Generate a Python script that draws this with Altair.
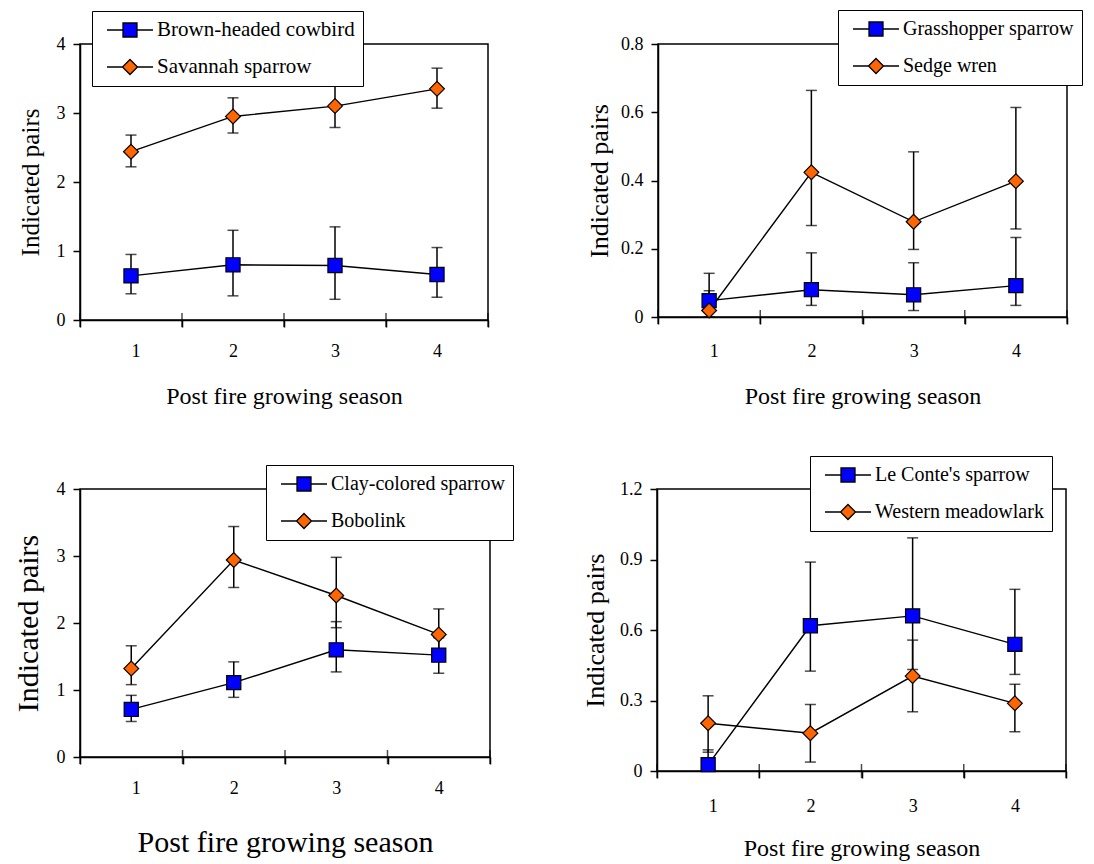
import altair as alt
import pandas as pd

# ---------------- data ----------------
seasons = [1, 2, 3, 4]
season_labels = ["1", "2", "3", "4"]
boundaries = [0.5, 1.5, 2.5, 3.5, 4.5]

# Panel A
a_species = ["Brown-headed cowbird", "Savannah sparrow"]
a_mean_1 = [0.64, 0.80, 0.79, 0.66]
a_lo_1 = [0.38, 0.35, 0.30, 0.33]
a_hi_1 = [0.95, 1.30, 1.35, 1.05]
a_mean_2 = [2.44, 2.95, 3.10, 3.35]
a_lo_2 = [2.22, 2.71, 2.79, 3.07]
a_hi_2 = [2.68, 3.22, 3.42, 3.65]

# Panel B
b_species = ["Grasshopper sparrow", "Sedge wren"]
b_mean_1 = [0.048, 0.080, 0.065, 0.092]
b_lo_1 = [0.020, 0.034, 0.019, 0.034]
b_hi_1 = [0.077, 0.188, 0.159, 0.233]
b_mean_2 = [0.019, 0.424, 0.279, 0.398]
b_lo_2 = [0.000, 0.268, 0.198, 0.258]
b_hi_2 = [0.128, 0.664, 0.484, 0.614]

# Panel C
c_species = ["Clay-colored sparrow", "Bobolink"]
c_mean_1 = [0.71, 1.11, 1.60, 1.52]
c_lo_1 = [0.53, 0.89, 1.27, 1.25]
c_hi_1 = [0.92, 1.42, 2.02, 1.78]
c_mean_2 = [1.32, 2.94, 2.41, 1.83]
c_lo_2 = [1.08, 2.53, 1.93, 1.50]
c_hi_2 = [1.66, 3.44, 2.98, 2.21]

# Panel D
d_species = ["Le Conte's sparrow", "Western meadowlark"]
d_mean_1 = [0.027, 0.618, 0.660, 0.539]
d_lo_1 = [0.000, 0.425, 0.432, 0.411]
d_hi_1 = [0.090, 0.889, 0.992, 0.773]
d_mean_2 = [0.203, 0.161, 0.404, 0.288]
d_lo_2 = [0.080, 0.038, 0.252, 0.167]
d_hi_2 = [0.320, 0.283, 0.557, 0.369]

COLORS = ["#0000FF", "#FF6600"]
MARKERS = ["square", "diamond"]
FONT = "Liberation Serif"
SQ_PATH = "M-2.3,0L-0.7,0M0.7,0L2.3,0M-0.7,-0.7L0.7,-0.7L0.7,0.7L-0.7,0.7Z"
DI_PATH = "M-2.3,0L-0.75,0M0.75,0L2.3,0M0,-0.75L0.75,0L0,0.75L-0.75,0Z"


def make_frame(species, m1, l1, h1, m2, l2, h2):
    rows = []
    series = ((species[0], m1, l1, h1, 0), (species[1], m2, l2, h2, 1))
    for sp, m, lo, hi, k in series:
        for s, mv, lv, hv in zip(seasons, m, lo, hi):
            rows.append({"species": sp, "season": s, "mean": mv, "lo": lv, "hi": hv, "k": k})
    return pd.DataFrame(rows)


def panel(species, m1, l1, h1, m2, l2, h2, ymax, yvals, decimals,
          w, h, lx, ly, xtitle_size, ytitle_size, ytitle_pad, xtitle_pad, xlabel_pad,
          legend_font):
    df = make_frame(species, m1, l1, h1, m2, l2, h2)
    bdf = pd.DataFrame({"b": boundaries})
    labels_js = "[" + ",".join("'%s'" % t for t in season_labels) + "]"
    xscale = alt.Scale(domain=[boundaries[0], boundaries[-1]], nice=False, zero=False)
    xaxis = alt.Axis(
        values=boundaries,
        labelExpr="datum.value < %s ? %s[round(datum.value - 0.5)] : ''" % (boundaries[-1], labels_js),
        labelOffset=w / 8.0,
        tickSize=7,
        labelPadding=xlabel_pad,
        title="Post fire growing season",
        titleFontSize=xtitle_size,
        titlePadding=xtitle_pad,
        labelFontSize=18,
        labelFont=FONT,
        titleFont=FONT,
    )
    if decimals:
        yexpr = "datum.value == 0 ? '0' : format(datum.value, '.1f')"
    else:
        yexpr = "format(datum.value, 'd')"
    yscale = alt.Scale(domain=[0, ymax], nice=False)
    yaxis = alt.Axis(
        values=yvals,
        labelExpr=yexpr,
        tickSize=7,
        labelPadding=8,
        title="Indicated pairs",
        titleFontSize=ytitle_size,
        titlePadding=ytitle_pad,
        labelFontSize=18,
        labelFont=FONT,
        titleFont=FONT,
    )
    X = alt.X("season:Q", scale=xscale, axis=xaxis)
    Ym = alt.Y("mean:Q", scale=yscale, axis=yaxis)
    base = alt.Chart(df)

    crossticks = alt.Chart(bdf).mark_tick(
        color="black", thickness=1.5, size=14, orient="vertical"
    ).encode(x=alt.X("b:Q", scale=xscale, axis=xaxis), y=alt.value(h))

    rules = base.mark_rule(color="black", strokeWidth=1.5).encode(
        x=X, y=alt.Y("lo:Q", scale=yscale, axis=yaxis), y2="hi:Q"
    )
    cap_lo = base.mark_tick(color="black", thickness=1.5, size=11, orient="horizontal").encode(
        x=X, y=alt.Y("lo:Q", scale=yscale, axis=yaxis)
    )
    cap_hi = base.mark_tick(color="black", thickness=1.5, size=11, orient="horizontal").encode(
        x=X, y=alt.Y("hi:Q", scale=yscale, axis=yaxis)
    )
    lines = base.mark_line(color="black", strokeWidth=1.4).encode(
        x=X, y=Ym, detail="species:N", order="season:Q",
    )
    legend = alt.Legend(
        title=None,
        orient="none",
        legendX=lx,
        legendY=ly,
        symbolSize=400,
        symbolOffset=19,
        symbolStrokeColor="black",
        symbolStrokeWidth=1.3,
        symbolOpacity=1,
        labelFont=FONT,
        labelFontSize=legend_font,
        labelColor="black",
        labelOffset=16,
        labelLimit=400,
        fillColor="white",
        strokeColor="black",
        padding=8,
        rowPadding=16,
    )
    pts_sq = base.transform_filter(alt.datum.k == 0).mark_point(
        filled=True, size=200, shape=MARKERS[0], fill=COLORS[0],
        stroke="black", strokeWidth=1.2, opacity=1
    ).encode(x=X, y=Ym)
    pts_di = base.transform_filter(alt.datum.k == 1).mark_point(
        filled=True, size=220, shape=MARKERS[1], fill=COLORS[1],
        stroke="black", strokeWidth=1.2, opacity=1
    ).encode(x=X, y=Ym)
    legend_layer = base.transform_filter("false").mark_point(
        filled=True, size=10, strokeWidth=1.3, opacity=1
    ).encode(
        x=X,
        y=Ym,
        fill=alt.Fill("species:N", scale=alt.Scale(domain=species, range=COLORS), legend=legend),
        stroke=alt.Stroke("species:N", scale=alt.Scale(domain=species, range=["black", "black"]), legend=legend),
        shape=alt.Shape("species:N", scale=alt.Scale(domain=species, range=[SQ_PATH, DI_PATH]), legend=legend),
    )
    return alt.layer(crossticks, rules, cap_lo, cap_hi, lines, pts_sq, pts_di, legend_layer).properties(width=w, height=h)


pA = panel(a_species, a_mean_1, a_lo_1, a_hi_1, a_mean_2, a_lo_2, a_hi_2,
           4, [0, 1, 2, 3, 4], False, 408, 276, 12, -33, 24, 25, 13, 24, 15, 21)
pB = panel(b_species, b_mean_1, b_lo_1, b_hi_1, b_mean_2, b_lo_2, b_hi_2,
           0.8, [0, 0.2, 0.4, 0.6, 0.8], True, 409, 273, 180, -34, 24, 26, 8, 24, 18, 20)
pC = panel(c_species, c_mean_1, c_lo_1, c_hi_1, c_mean_2, c_lo_2, c_hi_2,
           4, [0, 1, 2, 3, 4], False, 410, 268, 186, -24, 30, 30, 13, 30, 15, 20)
pD = panel(d_species, d_mean_1, d_lo_1, d_hi_1, d_mean_2, d_lo_2, d_hi_2,
           1.2, [0, 0.3, 0.6, 0.9, 1.2], True, 409, 282, 153, -33, 24, 26, 11, 21, 19, 20)

RES = dict(fill="independent", shape="independent", stroke="independent")
row1 = alt.hconcat(pA, pB, spacing=95).resolve_scale(**RES)
row2 = alt.hconcat(pC, pD, spacing=66).resolve_scale(**RES)
chart = alt.vconcat(row1, row2, spacing=45).resolve_scale(**RES).properties(
    padding={"left": 4, "top": 0, "right": 0, "bottom": 0}
).configure_view(
    stroke="black", strokeWidth=1.5
).configure_axis(
    domainColor="black", domainWidth=1.5, tickColor="black", tickWidth=1.5,
    labelColor="black", titleColor="black", labelFont=FONT, titleFont=FONT,
    titleFontWeight="normal", grid=False,
).configure_legend(
    labelFont=FONT
)

chart.save("out.html", embed_options={"renderer": "svg", "actions": False})
